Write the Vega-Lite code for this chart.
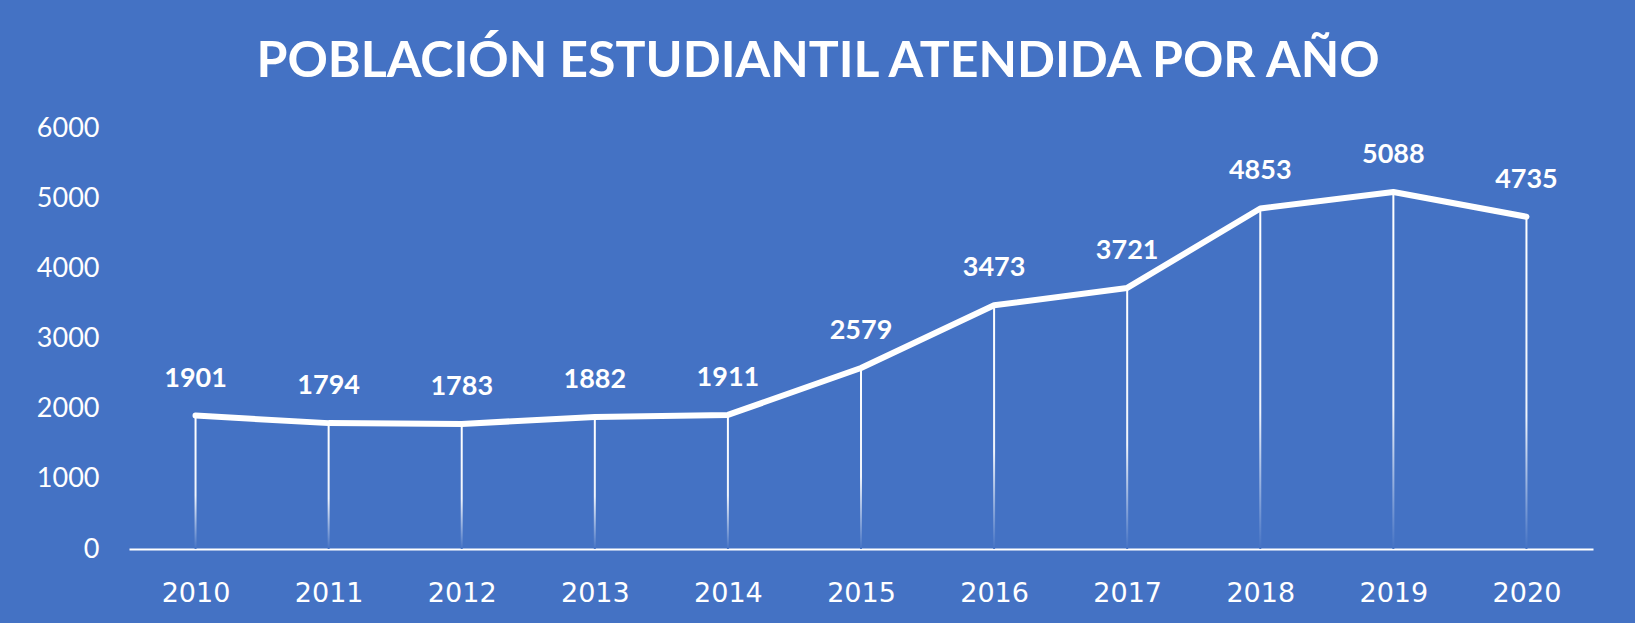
{
  "$schema": "https://vega.github.io/schema/vega-lite/v6.json",
  "width": 1464,
  "height": 421,
  "autosize": {"type": "none"},
  "padding": {"left": 129, "top": 128, "right": 42, "bottom": 74},
  "background": "#4472C4",
  "config": {"view": {"stroke": null}, "font": "Lato"},
  "title": {
    "text": "POBLACIÓN ESTUDIANTIL ATENDIDA POR AÑO",
    "font": "Lato",
    "fontSize": 50,
    "fontWeight": "bold",
    "color": "white",
    "anchor": "middle",
    "frame": "group",
    "dx": -43,
    "dy": 49,
    "baseline": "alphabetic",
    "offset": 36
  },
  "data": {
    "values": [
      {"year": "2010", "value": 1901},
      {"year": "2011", "value": 1794},
      {"year": "2012", "value": 1783},
      {"year": "2013", "value": 1882},
      {"year": "2014", "value": 1911},
      {"year": "2015", "value": 2579},
      {"year": "2016", "value": 3473},
      {"year": "2017", "value": 3721},
      {"year": "2018", "value": 4853},
      {"year": "2019", "value": 5088},
      {"year": "2020", "value": 4735}
    ]
  },
  "encoding": {
    "x": {
      "field": "year",
      "type": "ordinal",
      "scale": {"type": "point", "padding": 0.5},
      "axis": {
        "title": null,
        "labelAngle": 0,
        "labelFont": "DejaVu Sans",
        "labelFontSize": 27,
        "labelColor": "white",
        "labelPadding": 31,
        "ticks": false,
        "domainColor": "white",
        "domainWidth": 2,
        "grid": false
      }
    },
    "y": {
      "field": "value",
      "type": "quantitative",
      "scale": {"domain": [0, 6000], "nice": false},
      "axis": {
        "title": null,
        "values": [0, 1000, 2000, 3000, 4000, 5000, 6000],
        "format": "d",
        "labelFont": "Lato",
        "labelFontSize": 27,
        "labelColor": "white",
        "labelPadding": 30,
        "ticks": false,
        "domain": false,
        "grid": false
      }
    }
  },
  "layer": [
    {
      "mark": {
        "type": "bar",
        "size": 2,
        "fill": {
          "gradient": "linear",
          "x1": 0, "y1": 0, "x2": 0, "y2": 1,
          "stops": [
            {"offset": 0, "color": "#ffffff"},
            {"offset": 0.6, "color": "#f0f4fb"},
            {"offset": 1, "color": "#4472C4"}
          ]
        }
      }
    },
    {
      "mark": {"type": "line", "color": "white", "strokeWidth": 6, "strokeCap": "round", "strokeJoin": "round"}
    },
    {
      "mark": {
        "type": "text",
        "color": "white",
        "font": "Lato",
        "fontSize": 27,
        "fontWeight": "bold",
        "baseline": "middle",
        "dy": -37
      },
      "encoding": {"text": {"field": "value", "type": "quantitative", "format": "d"}}
    }
  ]
}
